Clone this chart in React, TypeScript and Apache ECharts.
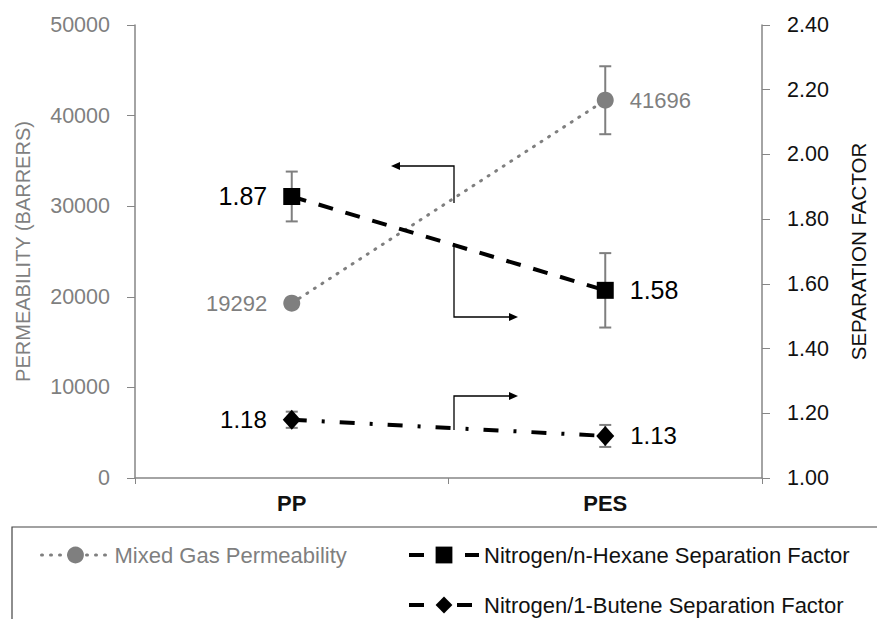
import React, { useEffect, useRef } from "react";
import * as echarts from "echarts";

const categories = ["PP", "PES"];
const permeability = [19292, 41696];
const permeabilityErr = [500, 3750];
const hexaneSF = [1.87, 1.58];
const hexaneErr = [0.077, 0.115];
const buteneSF = [1.18, 1.13];
const buteneErr = [0.025, 0.034];
const labelSides = ["left", "right"];

const names = {
  perm: "Mixed Gas Permeability",
  hex: "Nitrogen/n-Hexane Separation Factor",
  but: "Nitrogen/1-Butene Separation Factor",
};

const FONT = "Liberation Sans, Arial, sans-serif";
const GRAY = "#7f7f7f";
const AXIS = "#868686";

function errorSeries(id: string, values: number[], errs: number[], yAxisIndex: number) {
  return {
    type: "custom",
    name: id,
    yAxisIndex,
    z: 1,
    silent: true,
    data: values.map((v, i) => [i, v - errs[i], v + errs[i]]),
    encode: { x: 0, y: [1, 2] },
    renderItem: (_p: any, api: any) => {
      const x = api.value(0);
      const lo = api.coord([x, api.value(1)]);
      const hi = api.coord([x, api.value(2)]);
      const cap = 6;
      const style = { stroke: GRAY, lineWidth: 2 };
      return {
        type: "group",
        children: [
          { type: "line", shape: { x1: lo[0], y1: lo[1], x2: hi[0], y2: hi[1] }, style },
          { type: "line", shape: { x1: lo[0] - cap, y1: lo[1], x2: lo[0] + cap, y2: lo[1] }, style },
          { type: "line", shape: { x1: hi[0] - cap, y1: hi[1], x2: hi[0] + cap, y2: hi[1] }, style },
        ],
      };
    },
  };
}

function withLabels(values: number[], fmt: (v: number) => string) {
  return values.map((v, i) => ({
    value: v,
    label: { position: labelSides[i], formatter: () => fmt(v) },
  }));
}

function arrow(points: number[][], tip: number[], dir: "left" | "right") {
  const d = dir === "left" ? 1 : -1;
  return [
    {
      type: "polyline",
      shape: { points },
      style: { stroke: "#000", lineWidth: 1.3, fill: "none" },
      z: 10,
    },
    {
      type: "polygon",
      shape: {
        points: [tip, [tip[0] + 9 * d, tip[1] - 4], [tip[0] + 9 * d, tip[1] + 4]],
      },
      style: { fill: "#000" },
      z: 10,
    },
  ];
}

export default function App() {
  const ref = useRef<HTMLDivElement>(null);
  useEffect(() => {
    document.body.style.margin = "0";
    if (!ref.current) return;
    const chart = echarts.init(ref.current, null, { renderer: "svg" });
    const option: any = {
      animation: false,
      textStyle: { fontFamily: FONT },
      grid: { left: 135, right: 105, top: 25, bottom: 141 },
      xAxis: {
        type: "category",
        data: categories,
        boundaryGap: true,
        axisLine: { lineStyle: { color: AXIS, width: 1.5 } },
        axisTick: { show: true, length: 6, lineStyle: { color: AXIS } },
        axisLabel: { fontSize: 22, fontWeight: "bold", color: "#111", margin: 14, fontFamily: FONT },
      },
      yAxis: [
        {
          type: "value",
          min: 0,
          max: 50000,
          interval: 10000,
          name: "PERMEABILITY (BARRERS)",
          nameLocation: "middle",
          nameGap: 102,
          nameTextStyle: { fontSize: 20, color: GRAY, fontFamily: FONT },
          axisLine: { show: true, lineStyle: { color: AXIS, width: 1.5 } },
          axisTick: { show: true, length: 8, lineStyle: { color: AXIS } },
          axisLabel: {
            fontSize: 21.5,
            color: GRAY,
            margin: 25,
            fontFamily: FONT,
            formatter: (v: number) => String(v),
          },
          splitLine: { show: false },
        },
        {
          type: "value",
          min: 1,
          max: 2.4,
          interval: 0.2,
          position: "right",
          name: "SEPARATION FACTOR",
          nameLocation: "middle",
          nameGap: 86,
          nameTextStyle: { fontSize: 20.5, color: "#111", fontFamily: FONT },
          axisLine: { show: true, lineStyle: { color: AXIS, width: 1.5 } },
          axisTick: { show: true, length: 8, lineStyle: { color: AXIS } },
          axisLabel: {
            fontSize: 21.5,
            color: "#111",
            margin: 25,
            fontFamily: FONT,
            formatter: (v: number) => v.toFixed(2),
          },
          splitLine: { show: false },
        },
      ],
      legend: [
        {
          data: [names.perm],
          left: 40,
          top: 544,
          padding: 0,
          itemWidth: 68,
          itemHeight: 21,
          textStyle: { fontSize: 22, color: GRAY, lineHeight: 22, fontFamily: FONT },
          lineStyle: { width: 3 },
          selectedMode: false,
        },
        {
          data: [names.hex, names.but],
          orient: "vertical",
          left: 407,
          top: 544,
          padding: 0,
          itemGap: 28,
          itemWidth: 70,
          itemHeight: 21,
          textStyle: { fontSize: 22, color: "#111", lineHeight: 22, fontFamily: FONT },
          lineStyle: { width: 4 },
          selectedMode: false,
        },
      ],
      series: [
        errorSeries("err-perm", permeability, permeabilityErr, 0),
        errorSeries("err-hex", hexaneSF, hexaneErr, 1),
        errorSeries("err-but", buteneSF, buteneErr, 1),
        {
          type: "line",
          name: names.perm,
          yAxisIndex: 0,
          data: withLabels(permeability, (v) => String(v)),
          symbol: "circle",
          symbolSize: 17,
          itemStyle: { color: GRAY },
          lineStyle: { color: GRAY, width: 3, type: [1, 8], cap: "round" },
          label: { show: true, fontSize: 22, color: GRAY, distance: 16, fontFamily: FONT },
          z: 3,
        },
        {
          type: "line",
          name: names.hex,
          yAxisIndex: 1,
          data: withLabels(hexaneSF, (v) => v.toFixed(2)),
          symbol: "rect",
          symbolSize: 17,
          itemStyle: { color: "#000" },
          lineStyle: { color: "#000", width: 4, type: [15, 13] },
          label: { show: true, fontSize: 25, color: "#000", distance: 16, fontFamily: FONT },
          z: 3,
        },
        {
          type: "line",
          name: names.but,
          yAxisIndex: 1,
          data: withLabels(buteneSF, (v) => v.toFixed(2)),
          symbol: "diamond",
          symbolSize: [18, 20],
          itemStyle: { color: "#000" },
          lineStyle: { color: "#000", width: 4, type: [15, 15, 3, 15] },
          label: { show: true, fontSize: 24, color: "#000", distance: 16, fontFamily: FONT },
          z: 3,
        },
      ],
      graphic: [
        {
          type: "rect",
          shape: { x: 12, y: 527, width: 880, height: 120 },
          style: { fill: "none", stroke: "#444", lineWidth: 1.2 },
          silent: true,
        },
        ...arrow([[454, 203], [454, 166], [399, 166]], [391, 166], "left"),
        ...arrow([[454, 243], [454, 317], [510, 317]], [518, 317], "right"),
        ...arrow([[454, 430], [454, 396], [510, 396]], [518, 396], "right"),
      ],
    };
    chart.setOption(option);
    return () => chart.dispose();
  }, []);
  return <div ref={ref} style={{ width: 877, height: 619 }} />;
}
